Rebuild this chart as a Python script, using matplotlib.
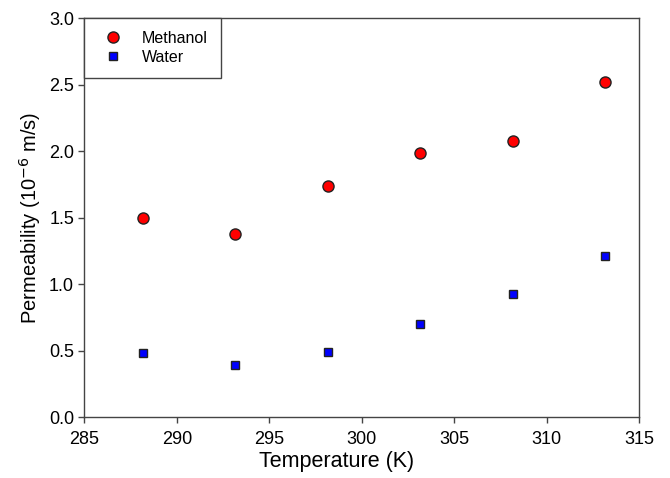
import matplotlib
matplotlib.use("Agg")
import matplotlib.pyplot as plt

temperature = [288.15, 293.15, 298.15, 303.15, 308.15, 313.15]
methanol = [1.50, 1.38, 1.74, 1.99, 2.08, 2.52]
water = [0.48, 0.39, 0.49, 0.70, 0.93, 1.21]

plt.rcParams["font.family"] = ["Liberation Sans", "DejaVu Sans"]

fig = plt.figure(figsize=(6.7, 4.78), dpi=100)
ax = fig.add_axes([0.126, 0.127, 0.828, 0.835])

ax.plot(temperature, methanol, "o", color="red", markeredgecolor="#222222",
        markeredgewidth=1, markersize=8, label="Methanol")
ax.plot(temperature, water, "s", color="blue", markeredgecolor="#222222",
        markeredgewidth=1, markersize=5.5, label="Water")

ax.set_xlim(285, 315)
ax.set_ylim(0, 3.0)
ax.set_xticks([285, 290, 295, 300, 305, 310, 315])
ax.set_yticks([0.0, 0.5, 1.0, 1.5, 2.0, 2.5, 3.0])
ax.set_yticklabels(["0.0", "0.5", "1.0", "1.5", "2.0", "2.5", "3.0"])
ax.tick_params(direction="out", length=4, width=1, labelsize=13, color="#444444")
ax.tick_params(axis="x", pad=6)
for s in ax.spines.values():
    s.set_color("#444444")
    s.set_linewidth(1)

ax.set_xlabel("Temperature (K)", fontsize=15.5)
ax.xaxis.set_label_coords(0.454, -0.085)
ax.set_ylabel("Permeability (10$^{-6}$ m/s)", fontsize=14.5)

leg = ax.legend(loc="upper left", borderaxespad=0, fontsize=11.5, frameon=True,
                fancybox=False, framealpha=1, borderpad=0.8, handletextpad=0.8,
                labelspacing=0.25, handlelength=2.0)
leg.get_frame().set_edgecolor("#444444")
leg.get_frame().set_linewidth(1)

fig.savefig("out.png", dpi=100)
